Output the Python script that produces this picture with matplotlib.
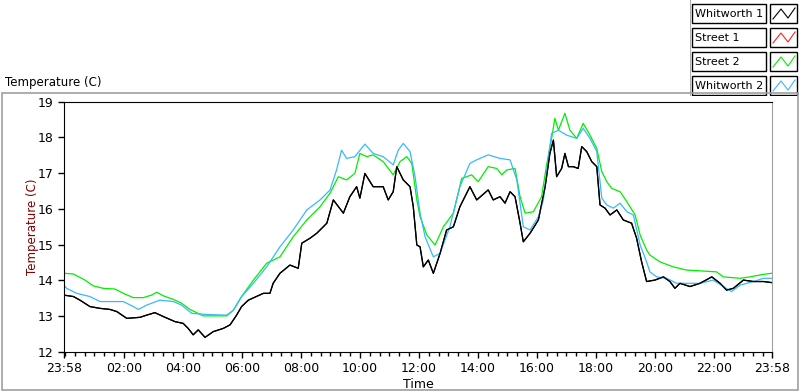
import matplotlib.pyplot as plt
from matplotlib.patches import Rectangle

# hours after 23:58 and temperature (C)
w1_time = [0.00, 0.32, 0.54, 0.88, 1.22, 1.56, 1.79, 2.13, 2.58, 2.80, 3.08, 3.37, 3.76, 4.04, 4.21,
           4.38, 4.55, 4.78, 5.06, 5.40, 5.63, 5.85, 6.02, 6.25, 6.76, 6.98, 7.09, 7.32, 7.66, 7.94,
           8.06, 8.34, 8.57, 8.91, 9.13, 9.47, 9.69, 9.92, 10.03, 10.20, 10.48, 10.82, 10.99, 11.16,
           11.28, 11.50, 11.73, 11.84, 11.96, 12.07, 12.18, 12.35, 12.52, 12.75, 12.97, 13.20, 13.42,
           13.76, 13.99, 14.38, 14.55, 14.78, 14.95, 15.12, 15.29, 15.46, 15.57, 15.80, 16.08, 16.31,
           16.47, 16.59, 16.70, 16.87, 16.98, 17.10, 17.26, 17.43, 17.55, 17.72, 17.89, 18.06, 18.17,
           18.34, 18.51, 18.74, 18.96, 19.24, 19.41, 19.58, 19.75, 20.03, 20.32, 20.54, 20.71, 20.88,
           21.22, 21.56, 21.96, 22.24, 22.46, 22.69, 23.03, 23.37, 23.71, 23.99]
w1_temp = [13.59, 13.55, 13.45, 13.27, 13.22, 13.19, 13.13, 12.94, 12.97, 13.03, 13.10, 12.99, 12.85, 12.80, 12.66,
           12.48, 12.62, 12.41, 12.57, 12.66, 12.76, 13.03, 13.27, 13.45, 13.64, 13.64, 13.92, 14.20, 14.43, 14.34,
           15.04, 15.18, 15.32, 15.60, 16.25, 15.88, 16.34, 16.62, 16.30, 16.99, 16.62, 16.62, 16.25, 16.48,
           17.18, 16.81, 16.62, 16.06, 14.99, 14.94, 14.38, 14.57, 14.20, 14.76, 15.41, 15.50, 16.06,
           16.62, 16.25, 16.53, 16.25, 16.34, 16.16, 16.48, 16.34, 15.60, 15.08, 15.32, 15.69, 16.62,
           17.55, 17.92, 16.90, 17.13, 17.55, 17.18, 17.18, 17.13, 17.74, 17.60, 17.32, 17.18, 16.11,
           16.02, 15.83, 15.97, 15.69, 15.60, 15.18, 14.52, 13.97, 14.01, 14.10, 13.97, 13.78, 13.92,
           13.83, 13.92, 14.10, 13.92, 13.73, 13.78, 14.01, 13.97, 13.97, 13.94]

s1_time = []
s1_temp = []

s2_time = [0.00, 0.32, 0.71, 0.99, 1.33, 1.73, 2.01, 2.35, 2.69, 2.97, 3.14, 3.37, 3.71, 3.99, 4.27,
           4.72, 5.18, 5.52, 5.74, 6.02, 6.42, 6.87, 7.32, 7.77, 8.23, 8.68, 9.02, 9.30, 9.58, 9.86,
           10.03, 10.26, 10.48, 10.82, 11.16, 11.39, 11.62, 11.79, 11.96, 12.07, 12.30, 12.58, 12.86,
           13.20, 13.48, 13.82, 14.04, 14.38, 14.67, 14.84, 15.01, 15.29, 15.46, 15.63, 15.91, 16.19,
           16.36, 16.53, 16.64, 16.76, 16.98, 17.15, 17.38, 17.60, 17.83, 18.06, 18.23, 18.40, 18.57,
           18.85, 19.08, 19.36, 19.53, 19.75, 19.86, 20.20, 20.65, 21.11, 22.12, 22.35, 22.92, 23.25,
           23.71, 23.99]
s2_temp = [14.20, 14.18, 14.01, 13.85, 13.78, 13.76, 13.64, 13.52, 13.52, 13.59, 13.67, 13.57, 13.47, 13.36, 13.19,
           13.01, 13.01, 13.01, 13.17, 13.55, 14.01, 14.48, 14.66, 15.22, 15.69, 16.06, 16.44, 16.90, 16.81, 16.99,
           17.55, 17.46, 17.51, 17.32, 16.95, 17.32, 17.46, 17.27, 16.25, 15.78, 15.27, 14.99, 15.50,
           15.88, 16.85, 16.95, 16.76, 17.18, 17.13, 16.95, 17.09, 17.13, 16.34, 15.88, 15.92, 16.34,
           17.23, 17.97, 18.53, 18.20, 18.67, 18.20, 17.97, 18.39, 18.06, 17.69, 17.04, 16.76, 16.57,
           16.48, 16.20, 15.83, 15.27, 14.85, 14.71, 14.52, 14.38, 14.29, 14.24, 14.10, 14.06, 14.10,
           14.17, 14.20]

w2_time = [0.00, 0.09, 0.43, 0.88, 1.22, 1.56, 2.01, 2.35, 2.52, 2.80, 3.25, 3.71, 3.99, 4.33, 4.84,
           5.52, 5.74, 6.02, 6.42, 6.87, 7.32, 7.77, 8.23, 8.68, 9.02, 9.24, 9.41, 9.58, 9.86, 10.20,
           10.48, 10.82, 11.16, 11.33, 11.50, 11.73, 11.90, 12.07, 12.24, 12.52, 12.75, 13.08, 13.42,
           13.76, 13.99, 14.38, 14.78, 15.12, 15.35, 15.57, 15.80, 16.08, 16.25, 16.42, 16.53, 16.76,
           17.04, 17.38, 17.60, 17.83, 18.06, 18.23, 18.40, 18.62, 18.85, 19.08, 19.30, 19.53, 19.75,
           19.86, 20.09, 20.43, 20.77, 21.56, 22.01, 22.35, 22.63, 22.92, 23.37, 23.71, 23.99]
w2_temp = [13.87, 13.78, 13.64, 13.55, 13.41, 13.41, 13.41, 13.27, 13.19, 13.31, 13.45, 13.41, 13.31, 13.08, 13.05,
           13.03, 13.17, 13.55, 13.92, 14.38, 14.94, 15.41, 15.97, 16.25, 16.53, 17.09, 17.64, 17.41, 17.46, 17.81,
           17.55, 17.46, 17.23, 17.64, 17.83, 17.60, 16.90, 15.88, 15.22, 14.66, 14.76, 15.50, 16.62,
           17.27, 17.37, 17.51, 17.41, 17.37, 16.81, 15.50, 15.41, 15.78, 16.25, 17.46, 18.11, 18.20,
           18.06, 17.97, 18.25, 17.97, 17.60, 16.30, 16.11, 16.02, 16.16, 15.92, 15.83, 14.99, 14.52,
           14.24, 14.10, 14.06, 13.92, 13.92, 14.01, 13.83, 13.69, 13.87, 13.97, 14.06, 14.06]

names = ['Whitworth 1', 'Street 1', 'Street 2', 'Whitworth 2']
colors = ['#000000', '#ff2020', '#00ee00', '#38b8ff']
tick_labels = ['23:58', '02:00', '04:00', '06:00', '08:00', '10:00', '12:00',
               '14:00', '16:00', '18:00', '20:00', '22:00', '23:58']

if __name__ == '__main__':
    plt.rcParams['font.family'] = 'DejaVu Sans'
    fig = plt.figure(figsize=(8, 3.92), dpi=100)

    # outer panel frame
    fig.add_artist(Rectangle((0.003, 0.006), 0.994, 0.757, transform=fig.transFigure,
                             fill=False, edgecolor='#a0a0a0', lw=1.2))
    fig.text(0.006, 0.79, 'Temperature (C)', fontsize=8.5, ha='left', va='center')

    ax = fig.add_axes([0.08, 0.102, 0.885, 0.639])
    series = [(w1_time, w1_temp), (s1_time, s1_temp), (s2_time, s2_temp), (w2_time, w2_temp)]
    for (t, v), name, c in zip(series, names, colors):
        if len(t) > 0:
            ax.plot(t, v, color=c, lw=0.9, label=name)
    # black drawn again on top, like the reference
    ax.plot(w1_time, w1_temp, color=colors[0], lw=0.9)

    ax.set_xlim(0, 24)
    ax.set_ylim(12, 19)
    ax.set_yticks(range(12, 20))
    major = [0] + [(h + 2 / 60) for h in range(2, 23, 2)] + [24]
    ax.set_xticks(major)
    ax.set_xticklabels(tick_labels)
    ax.set_xticks([2 / 60 + k / 3 for k in range(72)], minor=True)
    ax.tick_params(axis='both', labelsize=9, direction='out', length=4, width=1)
    ax.tick_params(axis='x', which='minor', length=3, width=1)
    for s in ['left', 'bottom', 'top']:
        ax.spines[s].set_color('black')
    ax.spines['right'].set_color('#a0a0a0')
    ax.set_xlabel('Time', fontsize=9, labelpad=2)
    ax.set_ylabel('Temperature (C)', fontsize=8.5, color='#800000', labelpad=-1)

    # legend panel, laid out in the reference's pixel units
    lg = fig.add_axes([690 / 800, 1 - 96 / 392, 110 / 800, 96 / 392])
    lg.set_xlim(0, 110)
    lg.set_ylim(96, 0)
    lg.axis('off')
    lg.plot([0, 0], [0, 96], color='#a0a0a0', lw=1.2)
    for i, (name, c) in enumerate(zip(names, colors)):
        y0 = 4 + 24 * i
        lg.add_patch(Rectangle((2, y0), 74, 19, fill=False, edgecolor='black', lw=1))
        lg.text(5, y0 + 10, name, fontsize=8, va='center', ha='left')
        lg.add_patch(Rectangle((80, y0), 27, 19, fill=False, edgecolor='black', lw=1))
        lg.plot([83, 91, 98, 105], [y0 + 15, y0 + 5, y0 + 14, y0 + 4], color=c, lw=0.8)

    plt.savefig('out.png', dpi=100)
